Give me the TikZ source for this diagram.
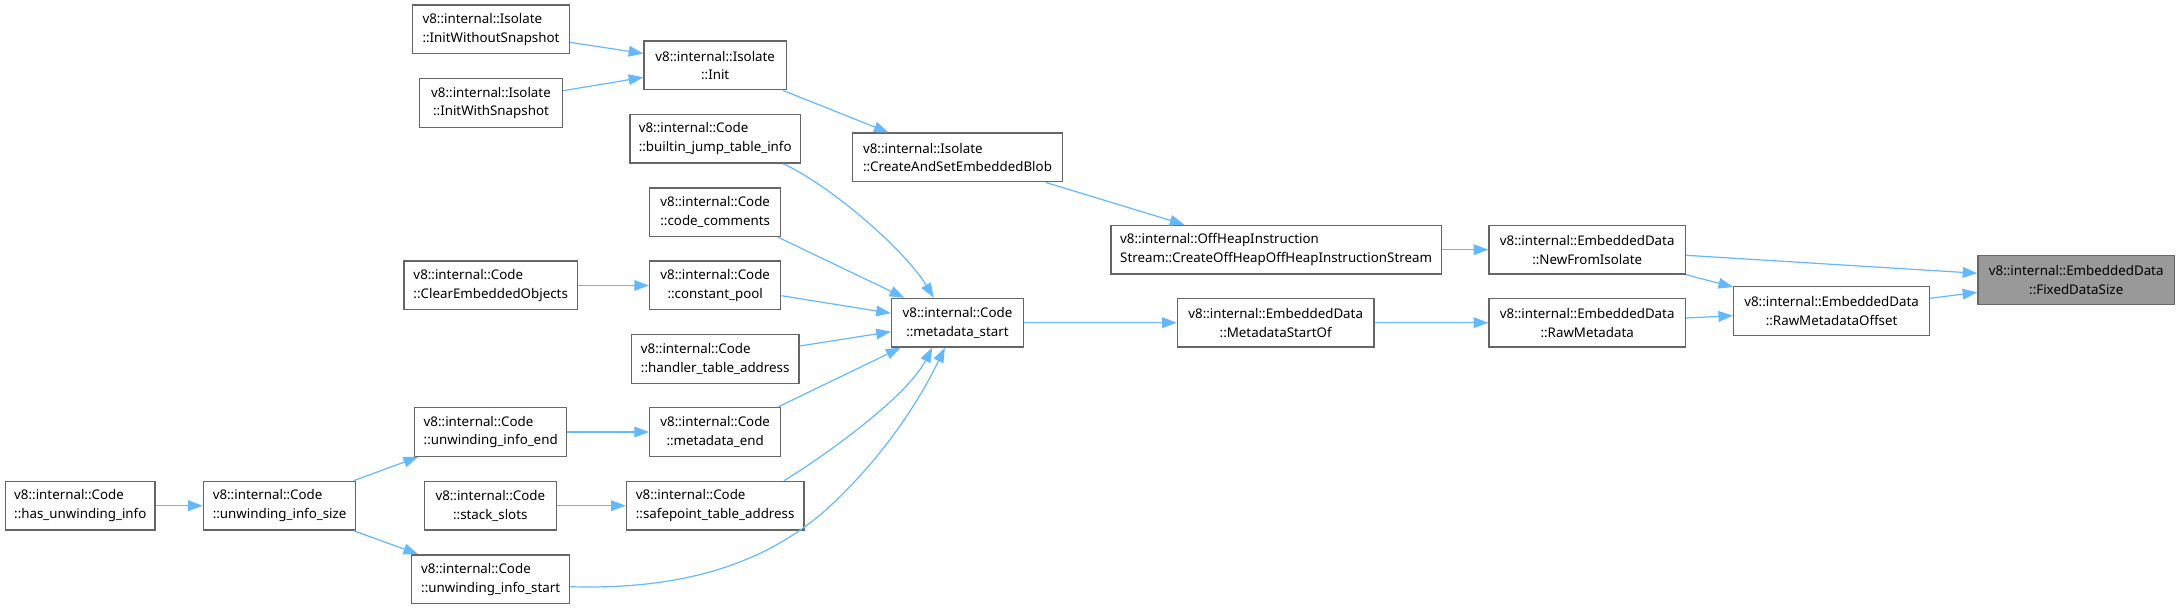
\documentclass[tikz,border=0pt]{standalone}
\usepackage{fontspec}
\setmainfont{Noto Sans}
\usetikzlibrary{arrows.meta,calc}
\definecolor{edgeblue}{HTML}{63B8FF}
\definecolor{boxborder}{HTML}{666666}
\definecolor{hilite}{HTML}{999999}
\begin{document}
\begin{tikzpicture}[x=0.75pt,y=-0.75pt,
  box/.style={draw=boxborder,fill=white,line width=1pt,inner sep=0pt,
    minimum height=36.5pt,font=\fontsize{10pt}{14pt}\selectfont},
  lbox/.style={box,align=left},
  cbox/.style={box,align=center},
  edge/.style={draw=edgeblue,line width=0.9pt,
    -{Triangle[length=11pt,width=8pt]}}]
\useasboundingbox (0,0) rectangle (2180,609);
% nodes
\node[lbox,minimum width={157*0.75pt}] (iws) at (491,29.4) {v8::internal::Isolate\\::InitWithoutSnapshot};
\node[cbox,minimum width={143*0.75pt}] (iwsnap) at (491,103) {v8::internal::Isolate\\::InitWithSnapshot};
\node[cbox,minimum width={142.4*0.75pt}] (init) at (715.2,65.5) {v8::internal::Isolate\\::Init};
\node[lbox,minimum width={170.4*0.75pt}] (bjti) at (715.2,138.8) {v8::internal::Code\\::builtin\_jump\_table\_info};
\node[lbox,minimum width={131.2*0.75pt}] (cc) at (715.2,212.2) {v8::internal::Code\\::code\_comments};
\node[lbox,minimum width={173.3*0.75pt}] (ceo) at (490.7,285.5) {v8::internal::Code\\::ClearEmbeddedObjects};
\node[cbox,minimum width={131.2*0.75pt}] (cp) at (715.2,285.5) {v8::internal::Code\\::constant\_pool};
\node[lbox,minimum width={167.6*0.75pt}] (hta) at (715.2,358.9) {v8::internal::Code\\::handler\_table\_address};
\node[lbox,minimum width={152.2*0.75pt}] (uie) at (490.7,432) {v8::internal::Code\\::unwinding\_info\_end};
\node[cbox,minimum width={131.2*0.75pt}] (me) at (715.2,432) {v8::internal::Code\\::metadata\_end};
\node[lbox,minimum width={149.4*0.75pt}] (hui) at (80.3,505.7) {v8::internal::Code\\::has\_unwinding\_info};
\node[lbox,minimum width={152.3*0.75pt}] (uis) at (279.6,505.7) {v8::internal::Code\\::unwinding\_info\_size};
\node[cbox,minimum width={131.9*0.75pt}] (ss) at (490.3,505.7) {v8::internal::Code\\::stack\_slots};
\node[lbox,minimum width={177.5*0.75pt}] (sta) at (715.2,505.7) {v8::internal::Code\\::safepoint\_table\_address};
\node[lbox,minimum width={157.8*0.75pt}] (uist) at (490.7,579.2) {v8::internal::Code\\::unwinding\_info\_start};
\node[lbox,minimum width={210.5*0.75pt}] (casb) at (957.5,157.5) {v8::internal::Isolate\\::CreateAndSetEmbeddedBlob};
\node[cbox,minimum width={131.9*0.75pt}] (ms) at (957.5,322.7) {v8::internal::Code\\::metadata\_start};
\node[lbox,minimum width={330.4*0.75pt}] (ohis) at (1276.1,249.7) {v8::internal::OffHeapInstruction\\Stream::CreateOffHeapOffHeapInstructionStream};
\node[cbox,minimum width={196.5*0.75pt}] (mso) at (1275.7,322.7) {v8::internal::EmbeddedData\\::MetadataStartOf};
\node[cbox,minimum width={196.4*0.75pt}] (nfi) at (1587.2,249.7) {v8::internal::EmbeddedData\\::NewFromIsolate};
\node[cbox,minimum width={196.4*0.75pt}] (rm) at (1587.2,322.7) {v8::internal::EmbeddedData\\::RawMetadata};
\node[cbox,minimum width={195.7*0.75pt}] (rmo) at (1831.6,311) {v8::internal::EmbeddedData\\::RawMetadataOffset};
\node[cbox,minimum width={196.4*0.75pt},fill=hilite] (fds) at (2076.2,280) {v8::internal::EmbeddedData\\::FixedDataSize};
% edges
\draw[edge] ($(iws.east)+(0,13)$) -- ($(init.west)+(0,-12)$);
\draw[edge] ($(iwsnap.east)+(0,-12.3)$) -- ($(init.west)+(0,11.8)$);
\draw[edge] ($(init.south east)+(-4,0)$) -- ($(casb.north west)+(37,0)$);
\draw[edge] ($(casb.south east)+(-17.5,0)$) -- ($(ohis.north west)+(74.3,0)$);
\draw[edge] (ohis.east) -- (nfi.west);
\draw[edge] ($(nfi.east)+(0,5.6)$) -- ($(fds.west)+(0,-6.7)$);
\draw[edge] (nfi.south east) -- ($(rmo.north west)+(0,1)$);
\draw[edge] ($(rmo.east)+(0,-12.7)$) -- ($(fds.west)+(0,12.3)$);
\draw[edge] ($(rm.east)+(0,-4.7)$) -- ($(rmo.west)+(0,4.7)$);
\draw[edge] (mso.east) -- (rm.west);
\draw[edge] (ms.east) -- (mso.west);
\draw[edge] ($(bjti.south east)+(-18,0)$) .. controls (830,185) and (905,250) .. ($(ms.north west)+(42.8,0)$);
\draw[edge] ($(cc.south east)+(-3.5,0)$) -- ($(ms.north west)+(13.4,0)$);
\draw[edge] ($(cp.east)+(0,10.2)$) -- ($(ms.west)+(0,-9.4)$);
\draw[edge] (ceo.east) -- (cp.west);
\draw[edge] ($(hta.east)+(0,-12.9)$) -- ($(ms.west)+(0,9)$);
\draw[edge] ($(me.north east)+(-3.5,0)$) -- ($(ms.south west)+(9.8,0)$);
\draw[edge] (uie.east) -- (me.west);
\draw[edge] (hui.east) -- (uis.west);
\draw[edge] ($(uis.north east)+(-2.8,0)$) -- ($(uie.south west)+(4.2,0)$);
\draw[edge] ($(uis.south east)+(-2.8,0)$) -- ($(uist.north west)+(7,0)$);
\draw[edge] (ss.east) -- (sta.west);
\draw[edge] ($(sta.north east)+(-20.7,0)$) .. controls (815,462) and (905,400) .. ($(ms.south west)+(41.4,0)$);
\draw[edge] ($(uist.east)+(0,7.5)$) .. controls (680,590) and (760,565) .. (820,515)
  .. controls (855,485) and (905,430) .. ($(ms.south west)+(54,0)$);
\end{tikzpicture}
\end{document}
